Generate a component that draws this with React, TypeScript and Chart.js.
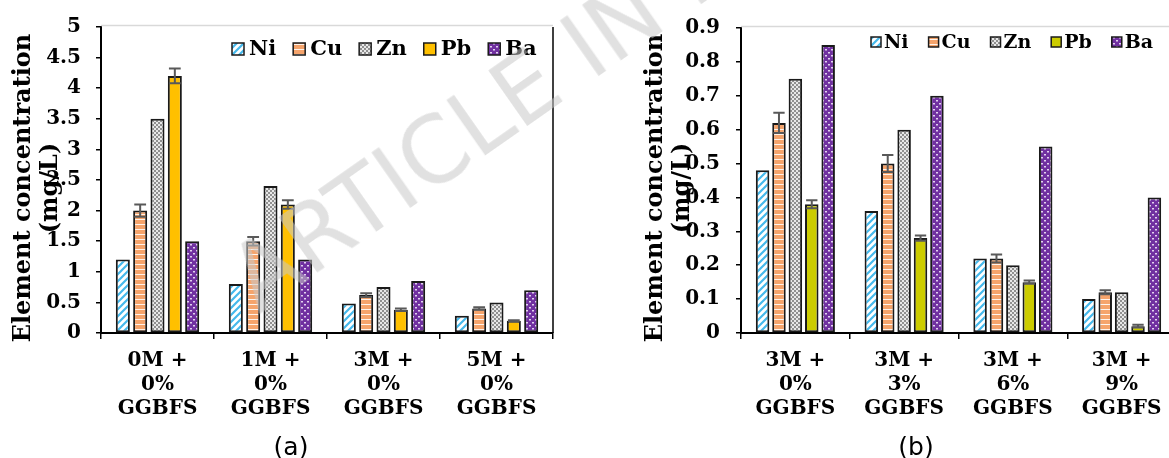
import React, { useEffect, useRef } from "react";
import { Chart, registerables } from "chart.js";

Chart.register(...registerables);

// ---------- data ----------
const elements = ["Ni", "Cu", "Zn", "Pb", "Ba"];

const categoriesA = [
  ["0M +", "0%", "GGBFS"],
  ["1M +", "0%", "GGBFS"],
  ["3M +", "0%", "GGBFS"],
  ["5M +", "0%", "GGBFS"],
];
const niA = [1.2, 0.8, 0.48, 0.28];
const cuA = [2.0, 1.5, 0.62, 0.4];
const znA = [3.5, 2.4, 0.75, 0.5];
const pbA = [4.2, 2.1, 0.38, 0.2];
const baA = [1.5, 1.2, 0.85, 0.7];
const cuErrA = [0.1, 0.07, 0.03, 0.02];
const pbErrA = [0.12, 0.07, 0.02, 0.01];
const yMaxA = 5;
const yStepA = 0.5;

const categoriesB = [
  ["3M +", "0%", "GGBFS"],
  ["3M +", "3%", "GGBFS"],
  ["3M +", "6%", "GGBFS"],
  ["3M +", "9%", "GGBFS"],
];
const niB = [0.48, 0.36, 0.22, 0.1];
const cuB = [0.62, 0.5, 0.22, 0.12];
const znB = [0.75, 0.6, 0.2, 0.12];
const pbB = [0.38, 0.28, 0.15, 0.02];
const baB = [0.85, 0.7, 0.55, 0.4];
const cuErrB = [0.03, 0.025, 0.012, 0.006];
const pbErrB = [0.012, 0.008, 0.005, 0.004];
const yMaxB = 0.9;
const yStepB = 0.1;

const yTitleLines = ["Element concentration", "(mg/L)"];
const panelLabels = ["(a)", "(b)"];
const watermarkText = "ARTICLE IN PRESS";

// ---------- patterns ----------
function tile(w: number, h: number, draw: (c: CanvasRenderingContext2D) => void) {
  const c = document.createElement("canvas");
  c.width = w;
  c.height = h;
  const ctx = c.getContext("2d")!;
  draw(ctx);
  const main = document.createElement("canvas").getContext("2d")!;
  return main.createPattern(c, "repeat") as CanvasPattern;
}

function makePatterns(pbColor: string) {
  const ni = tile(7, 7, (c) => {
    c.fillStyle = "#ffffff";
    c.fillRect(0, 0, 7, 7);
    c.strokeStyle = "#45b9ec";
    c.lineWidth = 2.2;
    c.beginPath();
    c.moveTo(-1, 8);
    c.lineTo(8, -1);
    c.moveTo(-1, 1);
    c.lineTo(1, -1);
    c.moveTo(6, 8);
    c.lineTo(8, 6);
    c.stroke();
  });
  const cu = tile(2, 5, (c) => {
    c.fillStyle = "#f5a46c";
    c.fillRect(0, 0, 2, 5);
    c.fillStyle = "#fff4ec";
    c.fillRect(0, 4, 2, 1);
  });
  const zn = tile(4, 4, (c) => {
    c.fillStyle = "#e8e8e8";
    c.fillRect(0, 0, 4, 4);
    c.fillStyle = "#909090";
    c.fillRect(0, 0, 2, 2);
    c.fillRect(2, 2, 2, 2);
  });
  const ba = tile(6, 6, (c) => {
    c.fillStyle = "#7030a0";
    c.fillRect(0, 0, 6, 6);
    c.fillStyle = "#e2d2ef";
    c.fillRect(1, 1, 2, 1.5);
    c.fillRect(4, 4, 2, 1.5);
  });
  return [ni, cu, zn, pbColor, ba];
}

// ---------- chart factory ----------
type Layout = {
  yAxisWidth: number;
  xAxisHeight: number;
  padTop: number;
  padRight: number;
  tickPadY: number;
  catPct: number;
  barPct: number;
  titleX1: number;
  titleX2: number;
  titleY: number;
  titleFont: number;
  legendX: number;
  legendY: number;
  legendBox: number;
  legendTextGap: number;
  legendItemGap: number;
  legendFont: number;
  rightLine: boolean;
};

const FONT = '"DejaVu Serif"';

function buildChart(
  canvas: HTMLCanvasElement,
  labels: string[][],
  series: number[][],
  errors: (number[] | null)[],
  yMax: number,
  yStep: number,
  pbColor: string,
  L: Layout
) {
  const fills = makePatterns(pbColor);
  const datasets = elements.map((name, i) => ({
    label: name,
    data: series[i],
    errors: errors[i],
    backgroundColor: fills[i] as any,
    borderColor: "#1a1a1a",
    borderWidth: 2,
    borderSkipped: false as any,
    categoryPercentage: L.catPct,
    barPercentage: L.barPct,
  }));

  const decor = {
    id: "decor",
    beforeDatasetsDraw(chart: any) {
      const { ctx, chartArea } = chart;
      ctx.save();
      ctx.strokeStyle = "#d9d9d9";
      ctx.lineWidth = 1.5;
      ctx.beginPath();
      ctx.moveTo(chartArea.left, chartArea.top - 1.5);
      ctx.lineTo(chartArea.right, chartArea.top - 1.5);
      ctx.stroke();
      if (L.rightLine) {
        ctx.strokeStyle = "#000";
        ctx.lineWidth = 1.5;
        ctx.beginPath();
        ctx.moveTo(chartArea.right, chartArea.top);
        ctx.lineTo(chartArea.right, chartArea.bottom);
        ctx.stroke();
      }
      ctx.restore();
    },
    afterDatasetsDraw(chart: any) {
      const { ctx } = chart;
      const yScale = chart.scales.y;
      ctx.save();
      ctx.strokeStyle = "#595959";
      ctx.lineWidth = 2;
      chart.data.datasets.forEach((ds: any, i: number) => {
        if (!ds.errors) return;
        const meta = chart.getDatasetMeta(i);
        meta.data.forEach((bar: any, j: number) => {
          const v = ds.data[j];
          const e = ds.errors[j];
          const yt = yScale.getPixelForValue(v + e);
          const yb = yScale.getPixelForValue(v - e);
          const hw = bar.width * 0.42;
          ctx.beginPath();
          ctx.moveTo(bar.x, yt);
          ctx.lineTo(bar.x, yb);
          ctx.moveTo(bar.x - hw, yt);
          ctx.lineTo(bar.x + hw, yt);
          ctx.moveTo(bar.x - hw, yb);
          ctx.lineTo(bar.x + hw, yb);
          ctx.stroke();
        });
      });
      ctx.restore();
    },
    afterDraw(chart: any) {
      const { ctx } = chart;
      ctx.save();
      // y title
      ctx.fillStyle = "#000";
      ctx.font = `bold ${L.titleFont}px ${FONT}`;
      ctx.textAlign = "center";
      ctx.textBaseline = "middle";
      [L.titleX1, L.titleX2].forEach((x, k) => {
        ctx.save();
        ctx.translate(x, L.titleY);
        ctx.rotate(-Math.PI / 2);
        ctx.fillText(yTitleLines[k], 0, 0);
        ctx.restore();
      });
      // legend
      ctx.font = `bold ${L.legendFont}px ${FONT}`;
      ctx.textAlign = "left";
      let x = L.legendX;
      const b = L.legendBox;
      chart.data.datasets.forEach((ds: any) => {
        ctx.fillStyle = ds.backgroundColor;
        ctx.fillRect(x, L.legendY - b / 2, b, b);
        ctx.strokeStyle = "#1a1a1a";
        ctx.lineWidth = 1.5;
        ctx.strokeRect(x, L.legendY - b / 2, b, b);
        ctx.fillStyle = "#000";
        ctx.fillText(ds.label, x + b + L.legendTextGap, L.legendY + 1);
        x += b + L.legendTextGap + ctx.measureText(ds.label).width + L.legendItemGap;
      });
      ctx.restore();
    },
  };

  return new Chart(canvas, {
    type: "bar",
    data: { labels, datasets: datasets as any },
    options: {
      responsive: false,
      animation: false,
      layout: { padding: { top: L.padTop, right: L.padRight, left: 0, bottom: 0 } },
      plugins: { legend: { display: false }, tooltip: { enabled: false } },
      scales: {
        x: {
          offset: true,
          grid: {
            offset: true,
            drawOnChartArea: false,
            drawTicks: true,
            tickLength: 6,
            color: "#000",
            lineWidth: 1.5,
          },
          border: { display: true, color: "#000", width: 2 },
          ticks: {
            color: "#000",
            padding: 10,
            maxRotation: 0,
            autoSkip: false,
            font: { family: FONT, weight: "bold", size: 20, lineHeight: 1.2 },
          },
          afterFit: (s: any) => {
            s.height = L.xAxisHeight;
          },
        },
        y: {
          min: 0,
          max: yMax,
          grid: {
            drawOnChartArea: false,
            drawTicks: true,
            tickLength: 5,
            color: "#000",
            lineWidth: 1.5,
          },
          border: { display: true, color: "#000", width: 2 },
          ticks: {
            stepSize: yStep,
            color: "#000",
            padding: L.tickPadY,
            font: { family: FONT, weight: "bold", size: 20 },
            callback: (v: any) => String(Math.round(Number(v) * 100) / 100),
          },
          afterFit: (s: any) => {
            s.width = L.yAxisWidth;
          },
        },
      },
    } as any,
    plugins: [decor as any],
  });
}

export default function App() {
  const refA = useRef<HTMLCanvasElement>(null);
  const refB = useRef<HTMLCanvasElement>(null);

  useEffect(() => {
    const a = buildChart(
      refA.current!,
      categoriesA,
      [niA, cuA, znA, pbA, baA],
      [null, cuErrA, null, pbErrA, null],
      yMaxA,
      yStepA,
      "#ffc000",
      {
        yAxisWidth: 101,
        xAxisHeight: 125,
        padTop: 20,
        padRight: 9,
        tickPadY: 15,
        catPct: 0.767,
        barPct: 0.81,
        titleX1: 24,
        titleX2: 51,
        titleY: 188,
        titleFont: 24,
        legendX: 232,
        legendY: 49,
        legendBox: 12,
        legendTextGap: 5,
        legendItemGap: 17,
        legendFont: 21,
        rightLine: true,
      }
    );
    const b = buildChart(
      refB.current!,
      categoriesB,
      [niB, cuB, znB, pbB, baB],
      [null, cuErrB, null, pbErrB, null],
      yMaxB,
      yStepB,
      "#cccc00",
      {
        yAxisWidth: 181,
        xAxisHeight: 125,
        padTop: 20,
        padRight: 4,
        tickPadY: 16,
        catPct: 0.754,
        barPct: 0.823,
        titleX1: 96,
        titleX2: 123,
        titleY: 188,
        titleFont: 24,
        legendX: 311,
        legendY: 42,
        legendBox: 10,
        legendTextGap: 3,
        legendItemGap: 20,
        legendFont: 19,
        rightLine: false,
      }
    );
    return () => {
      a.destroy();
      b.destroy();
    };
  }, []);

  const wmFont = 92;
  const wmBase = wmFont * 0.846;

  return (
    <div
      style={{
        position: "fixed",
        left: 0,
        top: 0,
        width: 1169,
        height: 458,
        overflow: "hidden",
        background: "#fff",
      }}
    >
      <canvas ref={refA} width={562} height={458} style={{ position: "absolute", left: 0, top: 0 }} />
      <canvas ref={refB} width={620} height={458} style={{ position: "absolute", left: 560, top: 0 }} />
      {panelLabels.map((t, i) => (
        <div
          key={t}
          style={{
            position: "absolute",
            left: i === 0 ? 291 : 916,
            top: 446,
            transform: "translate(-50%, -50%)",
            fontFamily: '"DejaVu Sans"',
            fontSize: 25,
            lineHeight: "25px",
            color: "#000",
            whiteSpace: "nowrap",
          }}
        >
          {t}
        </div>
      ))}
      <div
        style={{
          position: "absolute",
          left: 259,
          top: 315 - wmBase,
          fontFamily: '"DejaVu Sans"',
          fontSize: wmFont,
          lineHeight: `${wmFont}px`,
          color: "rgba(200,200,200,0.55)",
          whiteSpace: "nowrap",
          transform: "rotate(-35deg)",
          transformOrigin: `0px ${wmBase}px`,
          pointerEvents: "none",
        }}
      >
        {watermarkText}
      </div>
    </div>
  );
}
